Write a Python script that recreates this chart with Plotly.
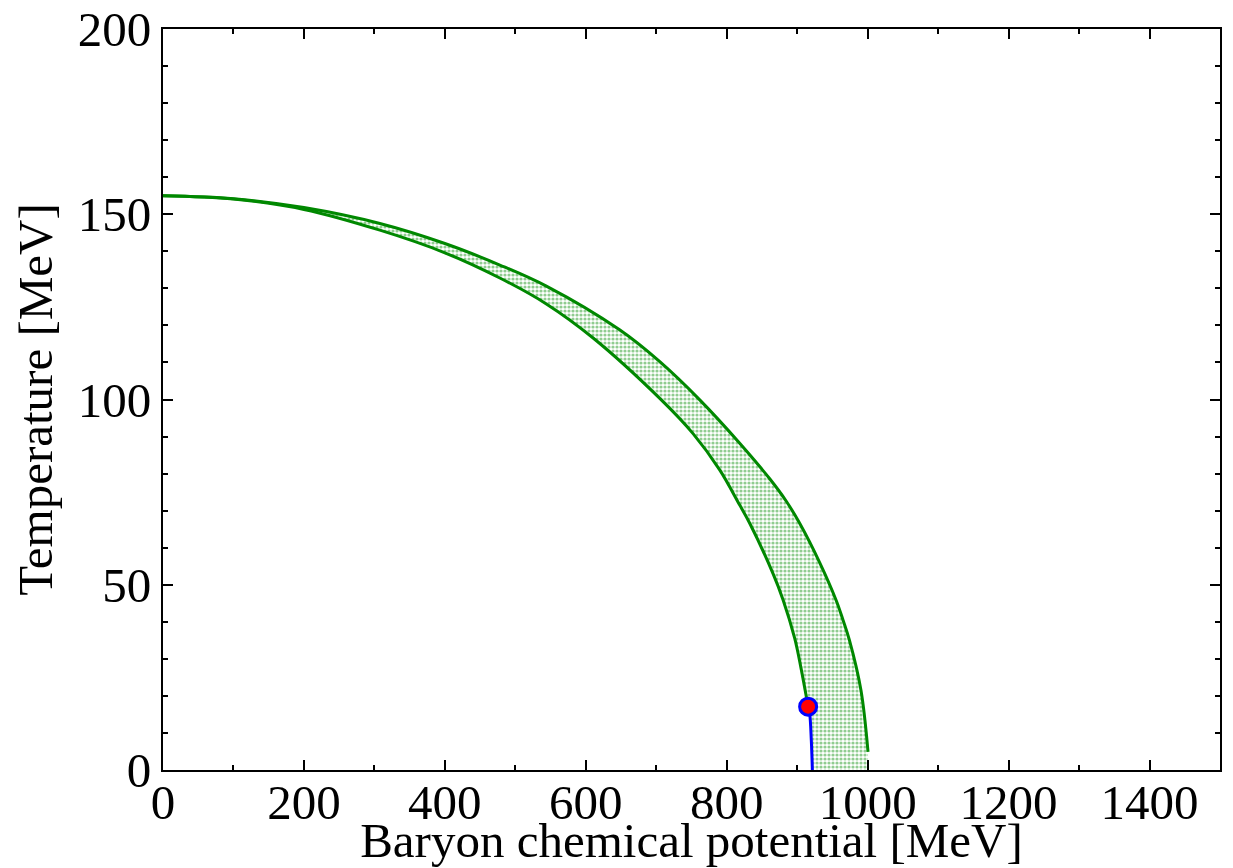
import plotly.graph_objects as go

# Outer (upper) boundary of the band: (mu_B, T) in MeV
outer_mu = [0, 100, 200, 307.8, 400, 478, 544, 648, 705, 761.7, 818.4, 861, 884.3, 903.5, 931.9, 955.5, 965, 974, 990.5, 1000.5]
outer_T = [155, 154.2, 151.8, 147.5, 142.1, 136.3, 130.6, 118.8, 110.2, 99.9, 88.2, 78.6, 72.6, 66.6, 56.0, 45.7, 40.5, 35.1, 21.5, 4.9]

# Inner (lower) boundary of the band
inner_mu = [0, 100, 200, 307.8, 400, 478, 544, 610.4, 705, 752.2, 790, 818.4, 832.6, 865.7, 880, 896.5, 905.6, 915.5]
inner_T = [155, 154.1, 151.3, 145.7, 139.6, 132.8, 125.8, 116.6, 100.3, 90.8, 81.0, 71.5, 66.6, 53.0, 45.9, 35.5, 27.3, 17.1]

# Blue line from critical point down to T=0
blue_mu = [915.5, 917.7, 920, 921.5]
blue_T = [17.1, 15.3, 8.1, 0]

# Critical point
cp_mu = [915.5]
cp_T = [17.1]

green = "#008800"

poly_x = outer_mu + [outer_mu[-1]] + blue_mu[::-1] + inner_mu[::-1]
poly_y = outer_T + [0] + blue_T[::-1] + inner_T[::-1]

fig = go.Figure()
fig.add_trace(go.Scatter(
    x=poly_x, y=poly_y, fill="toself", mode="none",
    fillcolor="rgba(255,255,255,0)",
    fillpattern=dict(shape=".", fgcolor="#229922", bgcolor="white", size=4, solidity=0.5),
    hoverinfo="skip", showlegend=False))
fig.add_trace(go.Scatter(x=outer_mu, y=outer_T, mode="lines",
                         line=dict(color=green, width=3, shape="spline", smoothing=1.0), showlegend=False))
fig.add_trace(go.Scatter(x=inner_mu, y=inner_T, mode="lines",
                         line=dict(color=green, width=3, shape="spline", smoothing=1.0), showlegend=False))
fig.add_trace(go.Scatter(x=blue_mu, y=blue_T, mode="lines",
                         line=dict(color="#0000ff", width=3, shape="spline", smoothing=1.0), showlegend=False))
fig.add_trace(go.Scatter(x=cp_mu, y=cp_T, mode="markers",
                         marker=dict(color="#ff0000", size=17, line=dict(color="#0000ff", width=3)),
                         showlegend=False))

font_family = "Liberation Serif, Times New Roman, serif"
axis_common = dict(
    showgrid=False, zeroline=False, showline=True, linecolor="black", linewidth=2,
    mirror="allticks", ticks="inside", ticklen=10, tickwidth=1.5, tickcolor="black",
    tickfont=dict(family=font_family, size=49, color="black"),
)
fig.update_xaxes(
    range=[0, 1500], tickmode="linear", tick0=0, dtick=200,
    minor=dict(ticks="inside", ticklen=5, tickwidth=1.5, tickcolor="black", dtick=100, tick0=0),
    ticklabelstandoff=-12,
    title=dict(text="Baryon chemical potential [MeV]", font=dict(family=font_family, size=49, color="black"), standoff=0),
    **axis_common)
fig.update_yaxes(
    range=[0, 200], tickmode="linear", tick0=0, dtick=50,
    minor=dict(ticks="inside", ticklen=5, tickwidth=1.5, tickcolor="black", dtick=10, tick0=0),
    title=dict(text="Temperature [MeV]", font=dict(family=font_family, size=49, color="black"), standoff=10),
    **axis_common)
fig.update_layout(
    width=1233, height=868,
    margin=dict(l=163, r=13, t=29, b=98, autoexpand=False),
    plot_bgcolor="white", paper_bgcolor="white",
)
fig.write_html("out.html", config={"displayModeBar": False},
               post_script="document.body.style.margin='0';document.body.style.overflow='hidden';")
